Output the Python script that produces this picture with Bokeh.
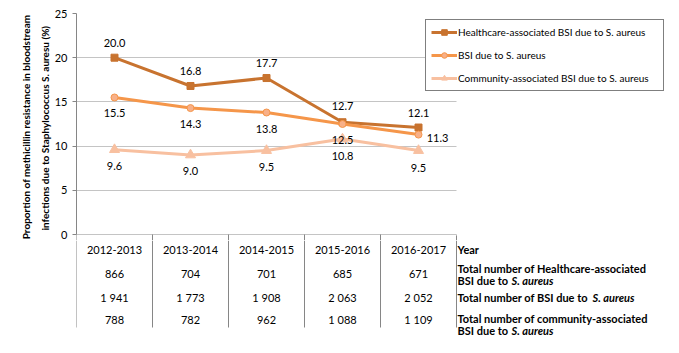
from bokeh.plotting import figure
from bokeh.layouts import column
from bokeh.models import (Range1d, FixedTicker, Legend, LegendItem, BoxAnnotation,
                          ColumnDataSource)
from bokeh.embed import file_html
from bokeh.resources import INLINE
from bokeh.core.properties import value

# ---------------- data ----------------
years = ["2012-2013", "2013-2014", "2014-2015", "2015-2016", "2016-2017"]
healthcare = [20.0, 16.8, 17.7, 12.7, 12.1]
bsi = [15.5, 14.3, 13.8, 12.5, 11.3]
community = [9.6, 9.0, 9.5, 10.8, 9.5]
n_healthcare = ["866", "704", "701", "685", "671"]
n_bsi = ["1 941", "1 773", "1 908", "2 063", "2 052"]
n_community = ["788", "782", "962", "1 088", "1 109"]
y_ticks = [0, 5, 10, 15, 20, 25]
series_names = ["Healthcare-associated BSI due to S. aureus",
                "BSI due to S. aureus",
                "Community-associated BSI due to S. aureus"]
y_title = ["Proportion of methicillin resistance in bloodstream",
           "infections due to Staphylococcus  S. auresu (%)"]

# ---------------- layout / style ----------------
W, H = 679, 353
LEFT, TOP = 76, 13
COL_PX = 76
ZERO_PY = 234
P1_H = 240                 # chart canvas height (frame ends 6px below zero)
TABLE_BOTTOM_PY = 327
FONT = value("Lato")
C_HC, C_BSI, C_COM = "#C8732F", "#F5964A", "#F8C0A0"
AXIS_C = "#868686"
GRID_C = "#C4C4C4"

ncat = len(years)
px_per_unit = (ZERO_PY - TOP) / max(y_ticks)
x_end = (W - LEFT) / COL_PX
y_start = -(P1_H - ZERO_PY) / px_per_unit
xs = [i + 0.5 for i in range(ncat)]
x_range = Range1d(0, x_end)

p = figure(width=W, height=P1_H, output_backend="svg", toolbar_location=None,
           x_range=x_range, y_range=Range1d(y_start, max(y_ticks)),
           x_axis_location=None,
           min_border_left=LEFT, min_border_right=0, min_border_top=TOP,
           min_border_bottom=0)
p.outline_line_color = None

# y axis
ax = p.yaxis[0]
ax.ticker = FixedTicker(ticks=y_ticks)
ax.bounds = (0, max(y_ticks))
ax.axis_line_color = AXIS_C
ax.major_tick_line_color = AXIS_C
ax.major_tick_out = 4
ax.major_tick_in = 0
ax.minor_tick_line_color = None
ax.major_label_text_font = "Lato"
ax.major_label_text_font_size = "11px"
ax.major_label_text_color = "#000000"
ax.major_label_standoff = 5
ax.axis_label = "\n".join(y_title)
ax.axis_label_text_font = "Lato"
ax.axis_label_text_font_size = "10px"
ax.axis_label_text_font_style = "bold"
ax.axis_label_text_color = "#000000"
ax.axis_label_text_line_height = 1.6
ax.axis_label_standoff = 1

p.xgrid.visible = False
p.ygrid.grid_line_color = GRID_C
p.ygrid.ticker = FixedTicker(ticks=y_ticks)

# hide gridlines right of the category area
p.add_layout(BoxAnnotation(left=ncat, bottom=-0.15, fill_color="white",
                           fill_alpha=1.0, line_color=None, level="glyph"))

# ---------------- series ----------------
src = ColumnDataSource(dict(x=xs, hc=healthcare, bsi=bsi, com=community,
                            hc_t=[f"{v:.1f}" for v in healthcare],
                            bsi_t=[f"{v:.1f}" for v in bsi],
                            com_t=[f"{v:.1f}" for v in community]))

l1 = p.line("x", "hc", source=src, line_width=3, color=C_HC)
m1 = p.scatter("x", "hc", source=src, marker="square", size=7, color=C_HC)
l2 = p.line("x", "bsi", source=src, line_width=3, color=C_BSI)
m2 = p.scatter("x", "bsi", source=src, marker="circle", size=7, color=C_BSI,
               fill_color="#F8B088")
l3 = p.line("x", "com", source=src, line_width=3, color=C_COM)
m3 = p.scatter("x", "com", source=src, marker="triangle", size=10, color=C_COM)

# data labels (offsets in screen pixels)
lab_kw = dict(text_font=FONT, text_font_size="11px", text_color="#000000",
              text_align="center", text_baseline="middle")
src.data["hc_dy"] = [-15, -15, -15, -16, -15]
src.data["bsi_dx"] = [0, 0, 0, 0, 19]
src.data["bsi_dy"] = [16, 16, 16, 16, 3]
src.data["com_dy"] = [16, 16, 16, 17, 17]
p.text("x", "hc", text="hc_t", source=src, y_offset="hc_dy", **lab_kw)
p.text("x", "bsi", text="bsi_t", source=src, x_offset="bsi_dx", y_offset="bsi_dy", **lab_kw)
p.text("x", "com", text="com_t", source=src, y_offset="com_dy", **lab_kw)

bounds_x = list(range(ncat + 1))
# upper stub of table column lines (inside chart frame, below zero)
p.segment(x0=bounds_x, y0=[0] * len(bounds_x), x1=bounds_x,
          y1=[y_start] * len(bounds_x), line_color=AXIS_C, line_width=1)

# ---------------- legend ----------------
legend = Legend(items=[LegendItem(label=series_names[0], renderers=[l1, m1]),
                       LegendItem(label=series_names[1], renderers=[l2, m2]),
                       LegendItem(label=series_names[2], renderers=[l3, m3])],
                location=(349, P1_H - 91), orientation="vertical",
                border_line_color="#000000", border_line_width=1,
                background_fill_color="white", background_fill_alpha=1.0,
                padding=5, margin=0, spacing=9, glyph_width=26, glyph_height=14,
                label_height=14, label_width=200, label_standoff=1,
                label_text_font="Lato", label_text_font_size="10px",
                label_text_color="#000000")
p.add_layout(legend, "center")

# ---------------- table below (second canvas, pixel rows from its top) ----------------
P2_H = H - P1_H
t = figure(width=W, height=P2_H, output_backend="svg", toolbar_location=None,
           x_range=x_range, y_range=Range1d(P2_H, 0),
           x_axis_location=None, y_axis_location=None,
           min_border_left=LEFT, min_border_right=0, min_border_top=0,
           min_border_bottom=0)
t.outline_line_color = None
t.grid.visible = False

line_bottom = TABLE_BOTTOM_PY - P1_H
t.segment(x0=bounds_x, y0=[0] * len(bounds_x), x1=bounds_x,
          y1=[line_bottom] * len(bounds_x), line_color=AXIS_C, line_width=1)

row_py = [249, 273, 297, 319]
for texts, py in zip([years, n_healthcare, n_bsi, n_community], row_py):
    t.text(x=xs, y=[py - P1_H] * ncat, text=texts, **lab_kw)

bold_kw = dict(text_font=FONT, text_font_size="11px", text_color="#000000",
               text_align="left", text_baseline="middle", text_font_style="bold")
ital_kw = dict(bold_kw, text_font_style="bold italic")
t.text(x=[ncat] * 6,
       y=[py - P1_H for py in [249, 268, 280, 297, 318, 330]],
       text=["Year", "Total number of Healthcare-associated", "BSI  due to ",
             "Total number of BSI  due to ", "Total number of community-associated",
             "BSI  due to "],
       x_offset=1, **bold_kw)
t.text(x=[ncat] * 3, y=[py - P1_H for py in [280, 297, 330]], text=["S. aureus"] * 3,
       x_offset=[55, 136, 55], **ital_kw)

layout = column(p, t, spacing=0)
open("out.html", "w").write(file_html(layout, INLINE))
